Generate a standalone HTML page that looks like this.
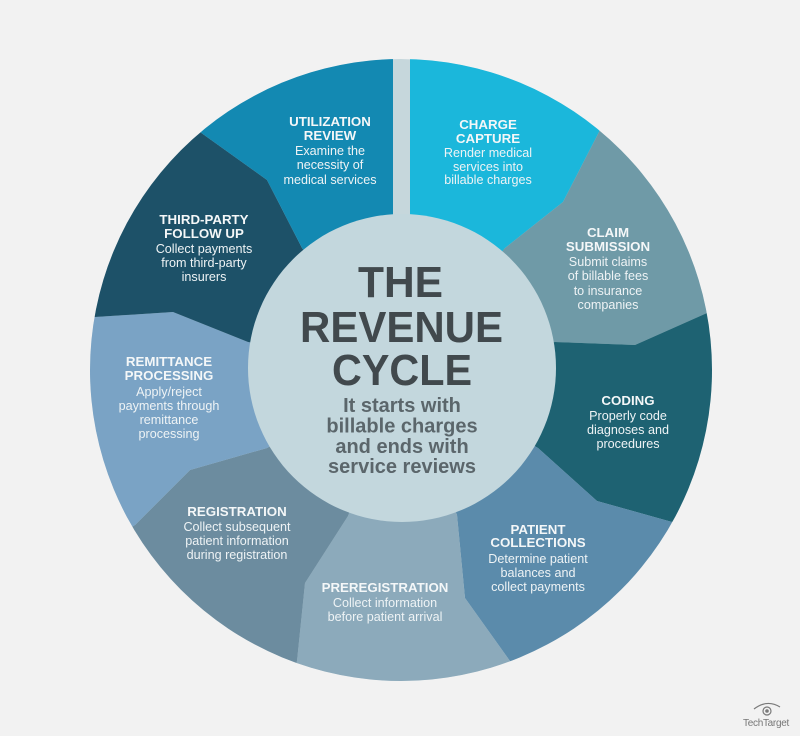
<!DOCTYPE html>
<html>
<head>
<meta charset="utf-8">
<style>
  html,body{margin:0;padding:0;background:#f2f2f2;}
  body{width:800px;height:736px;overflow:hidden;}
  svg{display:block;overflow:hidden;}
  .t{font-family:"Liberation Sans",Arial,sans-serif;font-weight:bold;font-size:13.3px;fill:#f4f7f8;text-anchor:middle;}
  .b{font-family:"Liberation Sans",Arial,sans-serif;font-size:12.6px;fill:#eef3f5;text-anchor:middle;}
  .big{font-family:"Liberation Sans",Arial,sans-serif;font-weight:bold;font-size:44px;fill:#41494d;text-anchor:middle;}
  .sub{font-family:"Liberation Sans",Arial,sans-serif;font-weight:bold;font-size:20px;fill:#5b666b;text-anchor:middle;}
</style>
</head>
<body>
<svg width="800" height="736" viewBox="0 0 800 736" xmlns="http://www.w3.org/2000/svg">
  <defs>
    <clipPath id="outer"><circle cx="401" cy="370" r="311"/></clipPath>
  </defs>
  <rect width="800" height="736" fill="#f2f2f2"/>
  <g clip-path="url(#outer)">
    <circle cx="401" cy="370" r="311" fill="#c6d7dc"/>
    <!-- Charge Capture -->
    <polygon fill="#1bb7db" points="410,370 410,25 460.9,30.2 519,45.8 573.5,71.2 621.5,104.7 600,130 563,202 505,248"/>
    <!-- Claim Submission -->
    <polygon fill="#6f9aa7" points="505,248 563,202 600,130 621.5,104.7 665.3,148.2 699.8,197.5 725.2,252 740.1,306.5 707,313 635,345 555,342 401,370"/>
    <!-- Coding -->
    <polygon fill="#1e6272" points="555,342 635,345 707,313 740.1,306.5 746,370 740.8,429.9 725.2,488 701.8,538.7 672,522 597,501 538,448 401,370"/>
    <!-- Patient Collections -->
    <polygon fill="#5b8bab" points="538,448 597,501 672,522 701.8,538.7 665.3,591.8 622.8,634.3 573.5,668.8 521.8,693.3 510,661 465,598 457,515 401,370"/>
    <!-- Preregistration -->
    <polygon fill="#8caabb" points="457,515 465,598 510,661 521.8,693.3 460.9,709.8 401,715 341.1,709.8 284.7,694.6 297,661 305,583 348,516 401,370"/>
    <!-- Registration -->
    <polygon fill="#6c8c9f" points="348,516 305,583 297,661 284.7,694.6 228.5,668.8 179.2,634.3 136.7,591.8 102.9,543.5 135,525 190,470 267,448 401,370"/>
    <!-- Remittance -->
    <polygon fill="#7aa3c5" points="267,448 190,470 135,525 102.9,543.5 76.8,488 61.2,429.9 56,370 61.2,311.4 95,317 173,312 248,342 401,370"/>
    <!-- Third-party -->
    <polygon fill="#1d5168" points="248,342 173,312 95,317 61.2,311.4 76.8,252 102.2,197.5 136.7,148.2 178.5,106.4 200,132 267,180 302,248 401,370"/>
    <!-- Utilization -->
    <polygon fill="#1389b2" points="302,248 267,180 200,132 178.5,106.4 228.5,71.2 283,45.8 341.1,30.2 393,25 393,370 401,370"/>
  </g>
  <!-- inner circle -->
  <circle cx="402" cy="368" r="154" fill="#c3d7dd"/>

  <!-- Center text -->
  <text class="big" x="400.5" y="297" textLength="85" lengthAdjust="spacingAndGlyphs">THE</text>
  <text class="big" x="401.5" y="342" textLength="203" lengthAdjust="spacingAndGlyphs">REVENUE</text>
  <text class="big" x="402" y="385" textLength="140" lengthAdjust="spacingAndGlyphs">CYCLE</text>
  <text class="sub" x="402" y="412">It starts with</text>
  <text class="sub" x="402" y="432.5">billable charges</text>
  <text class="sub" x="402" y="453">and ends with</text>
  <text class="sub" x="402" y="473">service reviews</text>

  <!-- Utilization Review -->
  <text class="t" x="330" y="126">UTILIZATION</text>
  <text class="t" x="330" y="140">REVIEW</text>
  <text class="b" x="330" y="155">Examine the</text>
  <text class="b" x="330" y="169">necessity of</text>
  <text class="b" x="330" y="184">medical services</text>

  <!-- Charge Capture -->
  <text class="t" x="488" y="129">CHARGE</text>
  <text class="t" x="488" y="143">CAPTURE</text>
  <text class="b" x="488" y="157">Render medical</text>
  <text class="b" x="488" y="171">services into</text>
  <text class="b" x="488" y="184">billable charges</text>

  <!-- Third-party -->
  <text class="t" x="204" y="224">THIRD-PARTY</text>
  <text class="t" x="204" y="238">FOLLOW UP</text>
  <text class="b" x="204" y="253">Collect payments</text>
  <text class="b" x="204" y="267">from third-party</text>
  <text class="b" x="204" y="281">insurers</text>

  <!-- Claim Submission -->
  <text class="t" x="608" y="237">CLAIM</text>
  <text class="t" x="608" y="251">SUBMISSION</text>
  <text class="b" x="608" y="266">Submit claims</text>
  <text class="b" x="608" y="280">of billable fees</text>
  <text class="b" x="608" y="295">to insurance</text>
  <text class="b" x="608" y="309">companies</text>

  <!-- Remittance Processing -->
  <text class="t" x="169" y="366">REMITTANCE</text>
  <text class="t" x="169" y="380">PROCESSING</text>
  <text class="b" x="169" y="396">Apply/reject</text>
  <text class="b" x="169" y="410">payments through</text>
  <text class="b" x="169" y="424">remittance</text>
  <text class="b" x="169" y="438">processing</text>

  <!-- Coding -->
  <text class="t" x="628" y="405">CODING</text>
  <text class="b" x="628" y="420">Properly code</text>
  <text class="b" x="628" y="434">diagnoses and</text>
  <text class="b" x="628" y="448">procedures</text>

  <!-- Registration -->
  <text class="t" x="237" y="516">REGISTRATION</text>
  <text class="b" x="237" y="531">Collect subsequent</text>
  <text class="b" x="237" y="545">patient information</text>
  <text class="b" x="237" y="559">during registration</text>

  <!-- Patient Collections -->
  <text class="t" x="538" y="534">PATIENT</text>
  <text class="t" x="538" y="547">COLLECTIONS</text>
  <text class="b" x="538" y="563">Determine patient</text>
  <text class="b" x="538" y="577">balances and</text>
  <text class="b" x="538" y="591">collect payments</text>

  <!-- Preregistration -->
  <text class="t" x="385" y="592">PREREGISTRATION</text>
  <text class="b" x="385" y="607">Collect information</text>
  <text class="b" x="385" y="621">before patient arrival</text>

  <!-- TechTarget logo -->
  <g fill="none" stroke="#7a7a7a" stroke-width="1.2">
    <path d="M754 709 Q767 699 780 707"/>
    <circle cx="767" cy="711" r="4"/>
  </g>
  <circle cx="767" cy="711" r="1.8" fill="#7a7a7a"/>
  <text x="766" y="726" font-family="Liberation Sans, Arial, sans-serif" font-size="10" fill="#777" text-anchor="middle" letter-spacing="-0.3">TechTarget</text>
</svg>
</body>
</html>
